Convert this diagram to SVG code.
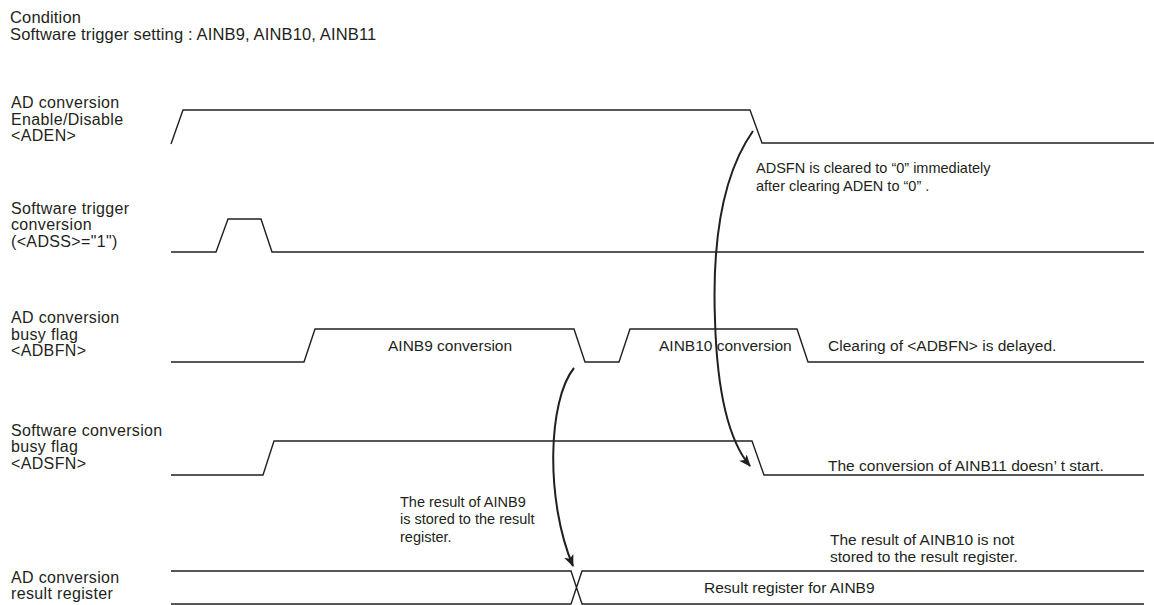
<svg xmlns="http://www.w3.org/2000/svg" width="1154" height="605" viewBox="0 0 1154 605">
<style>
text{font-family:"Liberation Sans",Arial,sans-serif;font-size:16px;letter-spacing:0.35px;fill:#231f20}
.t{font-size:16.5px;letter-spacing:0.15px}
.m{font-size:15.5px;letter-spacing:0}
.s{font-size:14.5px;letter-spacing:0}
.w{fill:none;stroke:#231f20;stroke-width:1.4;stroke-linejoin:miter}
.c{fill:none;stroke:#231f20;stroke-width:2}
</style>
<defs>
<marker id="ah" viewBox="0 0 12 10" refX="11" refY="5" markerWidth="12" markerHeight="10" markerUnits="userSpaceOnUse" orient="auto">
<path d="M0,0 L12,5 L0,10 L3,5 Z" fill="#231f20"/>
</marker>
</defs>
<rect width="1154" height="605" fill="#fff"/>
<g id="title">
<text class="t" x="10" y="23">Condition</text>
<text class="t" x="10" y="40">Software trigger setting : AINB9, AINB10, AINB11</text>
</g>
<g id="aden">
<text x="11" y="108">AD conversion</text>
<text x="11" y="124.5">Enable/Disable</text>
<text x="11" y="141">&lt;ADEN&gt;</text>
<path class="w" d="M171,144 L183,110 L750,110 L762,143 L1154,143"/>
</g>
<g id="adss">
<text x="11" y="213.5">Software trigger</text>
<text x="11" y="230">conversion</text>
<text x="11" y="246.5">(&lt;ADSS&gt;="1")</text>
<path class="w" d="M171,252 L216,252 L228,219 L261,219 L272,252 L1144,252"/>
</g>
<g id="adbfn">
<text x="11" y="323">AD conversion</text>
<text x="11" y="339.5">busy flag</text>
<text x="11" y="356">&lt;ADBFN&gt;</text>
<path class="w" d="M171,362 L304,362 L315,329 L574,329 L585,362 L619,362 L630,329 L797,329 L808,362 L1144,362"/>
<text class="m" x="388" y="351">AINB9 conversion</text>
<text class="m" x="659" y="351">AINB10 conversion</text>
<text class="m" x="828" y="351">Clearing of &lt;ADBFN&gt; is delayed.</text>
</g>
<g id="adsfn">
<text x="11" y="435.5">Software conversion</text>
<text x="11" y="452">busy flag</text>
<text x="11" y="468.5">&lt;ADSFN&gt;</text>
<path class="w" d="M171,475 L263,475 L274,441 L752,441 L764,475 L1144,475"/>
<text class="m" x="828" y="471">The conversion of AINB11 doesn’ t start.</text>
</g>
<g id="result">
<text x="11" y="582.5">AD conversion</text>
<text x="11" y="599">result register</text>
<path class="w" d="M171,571 L571,571 L582,604 L1144,604 M171,604 L571,604 L582,571 L1144,571"/>
<text class="m" x="704" y="593">Result register for AINB9</text>
</g>
<g id="notes">
<text class="s" x="756" y="173">ADSFN is cleared to “0” immediately</text>
<text class="s" x="756" y="191">after clearing ADEN to “0”  .</text>
<text class="s" x="400" y="507">The result of AINB9</text>
<text class="s" x="400" y="524">is stored to the result</text>
<text class="s" x="400" y="542">register.</text>
<text class="m" x="830" y="545">The result of AINB10 is not</text>
<text class="m" x="830" y="562">stored to the result register.</text>
</g>
<g id="connectors">
<path class="c" d="M574,368 C548,400 545,500 573,566" marker-end="url(#ah)"/>
<path class="c" d="M753,131 C722,175 712,240 715,320 C717,390 728,440 750,466" marker-end="url(#ah)"/>
</g>
</svg>
